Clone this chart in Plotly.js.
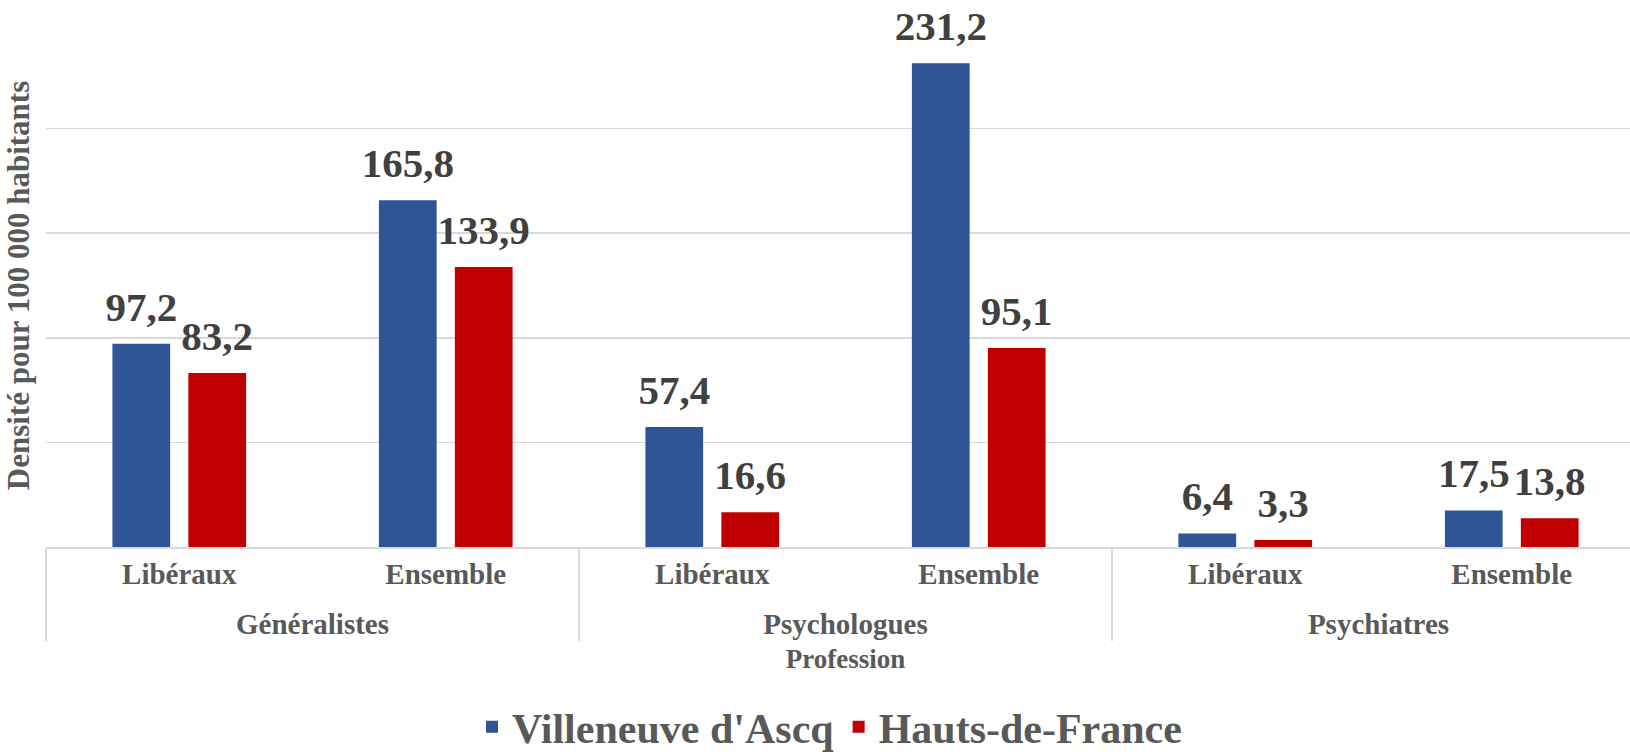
<!DOCTYPE html>
<html>
<head>
<meta charset="utf-8">
<script src="https://cdn.plot.ly/plotly-3.0.1.min.js"></script>
<style>
html,body{margin:0;padding:0;overflow:hidden;background:#fff;}
#chart{width:1660px;height:754px;}
</style>
</head>
<body>
<div id="chart"></div>
<script>
const groups = ["Généralistes","Généralistes","Psychologues","Psychologues","Psychiatres","Psychiatres"];
const subcats = ["Libéraux","Ensemble","Libéraux","Ensemble","Libéraux","Ensemble"];
const villeneuve = [97.2,165.8,57.4,231.2,6.4,17.5];
const hautsDeFrance = [83.2,133.9,16.6,95.1,3.3,13.8];
const seriesNames = ["Villeneuve d'Ascq","Hauts-de-France"];

const FONT = '"Liberation Serif", "DejaVu Serif", serif';
const fmt = v => v.toFixed(1).replace('.', ',');
const big = s => "<span style='font-size:29px'>" + s + "</span>";
// spacer line under first-level labels pushes the group level down
const subLabels = subcats.map(s => big(s) + "<br><span style='font-size:1px'>&nbsp;</span>");
const groupLabels = groups.map(big);

function bars(name, vals, color){
  return {
    type:'bar', name:name,
    x:[groupLabels, subLabels], y:vals,
    marker:{color:color},
    hoverinfo:'none'
  };
}
function labels(name, vals){
  return {
    type:'scatter', mode:'markers+text', name:name, showlegend:false,
    x:[groupLabels, subLabels], y:vals,
    text: vals.map(fmt), textposition:'top center',
    marker:{size:19, color:'rgba(0,0,0,0)'},
    textfont:{family:FONT, size:41, color:'#404040', weight:'bold'},
    cliponaxis:false, hoverinfo:'none'
  };
}

const data = [
  bars(seriesNames[0], villeneuve, '#2F5597'),
  bars(seriesNames[1], hautsDeFrance, '#C00000'),
  labels(seriesNames[0], villeneuve),
  labels(seriesNames[1], hautsDeFrance)
];

const layout = {
  width:1660, height:754,
  margin:{l:46, r:15, t:24, b:207},
  paper_bgcolor:'#fff', plot_bgcolor:'#fff',
  barmode:'group', bargap:0.43, bargroupgap:0.24,
  scattermode:'group', scattergap:0.43,
  font:{family:FONT, color:'#595959'},
  showlegend:true,
  legend:{orientation:'h', x:0.49, xanchor:'center', yref:'container', y:0.036, yanchor:'middle',
          font:{family:FONT, size:42, color:'#595959', weight:'bold'}, itemwidth:30},
  xaxis:{type:'multicategory', showline:true, linecolor:'#d9d9d9', linewidth:1.5,
         showdividers:true, dividercolor:'#d9d9d9', dividerwidth:1.5,
         ticks:'', ticklabelstandoff:8,
         tickfont:{family:FONT, size:23, color:'#595959', weight:'bold'},
         title:{text:'Profession', font:{family:FONT, size:27, color:'#595959', weight:'bold'}, standoff:10},
         automargin:false},
  yaxis:{range:[0,250], dtick:50, showticklabels:false, showgrid:true, gridcolor:'#d9d9d9', gridwidth:1.5,
         zeroline:false, showline:false, automargin:false,
         title:{text:'Densité pour 100 000 habitants', font:{family:FONT, size:31, color:'#595959', weight:'bold'}, standoff:6}}
};

Plotly.newPlot('chart', data, layout, {displayModeBar:false, staticPlot:true});
</script>
</body>
</html>
